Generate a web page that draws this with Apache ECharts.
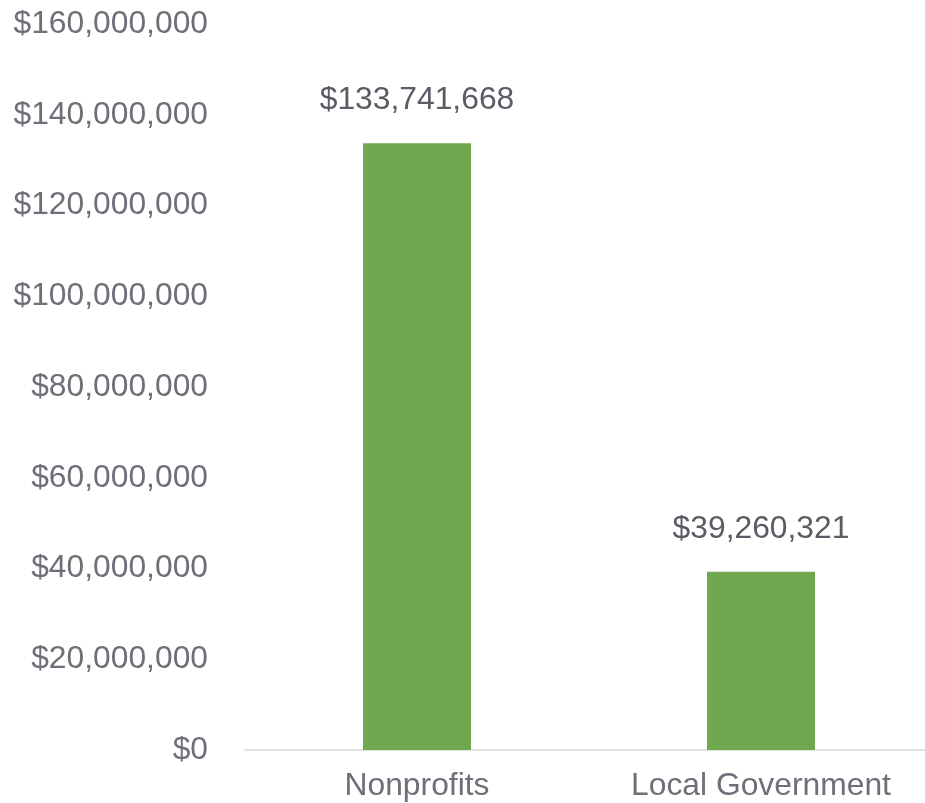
<!DOCTYPE html>
<html><head><meta charset="utf-8">
<script src="https://cdn.jsdelivr.net/npm/echarts@6/dist/echarts.min.js"></script>
<style>html,body{margin:0;padding:0;background:#fff;overflow:hidden}#c{width:933px;height:803px}</style>
</head><body><div id="c"></div>
<script>
const categories = ["Nonprofits", "Local Government"];
const values = [133741668, 39260321];
const yTicks = {min: 0, max: 160000000, interval: 20000000};

function money(v){ return '$' + Math.round(v).toLocaleString('en-US'); }

const FONT = '"Liberation Sans", Arial, sans-serif';
const chart = echarts.init(document.getElementById('c'), null, {renderer:'canvas'});
chart.setOption({
  animation:false,
  textStyle:{fontFamily:FONT},
  grid:{left:245, right:0, top:24, bottom:53, containLabel:false},
  xAxis:{type:'category', data:categories,
    axisLine:{lineStyle:{color:'#d9d9d9', width:1.5}},
    axisTick:{show:false},
    axisLabel:{color:'#726d78', fontSize:31.8, margin:20, fontFamily:FONT}
  },
  yAxis:{type:'value', min:yTicks.min, max:yTicks.max, interval:yTicks.interval,
    splitLine:{show:false}, axisLine:{show:false}, axisTick:{show:false},
    axisLabel:{color:'#726d78', fontSize:31.8, margin:37, formatter:money, fontFamily:FONT}
  },
  series:[{type:'bar', data:values, barWidth:108,
    itemStyle:{color:'#70a84f'},
    label:{show:true, position:'top', distance:27, color:'#5e5964', fontSize:31.8,
      formatter:p=>money(p.value), fontFamily:FONT}
  }]
});
</script></body></html>
